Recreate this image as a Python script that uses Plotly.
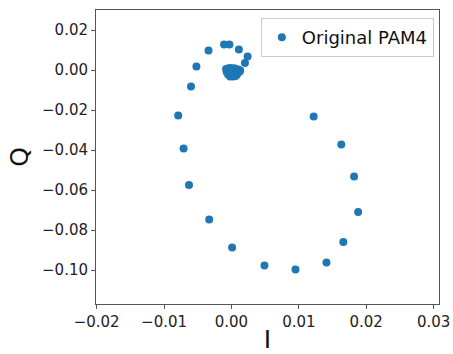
import plotly.graph_objects as go

# Ring points (I, Q)
ring_I = [-0.0071, -0.0063, -0.0033, 0.0001, 0.0049, 0.0095, 0.0141, 0.0166, 0.0188, 0.0182, 0.0163,
          -0.0079, 0.0122, -0.0060, -0.0052, -0.0034, -0.0011, -0.0003, 0.0011, 0.0024, 0.0020]
ring_Q = [-0.0393, -0.0575, -0.0747, -0.0887, -0.0977, -0.0998, -0.0962, -0.0860, -0.0710, -0.0533, -0.0373,
          -0.0227, -0.0233, -0.0083, 0.0018, 0.0098, 0.0127, 0.0127, 0.0103, 0.0067, 0.0035]
# Dense cluster near origin
clu_I = [-0.0008, -0.0005, -0.0002, 0.0001, 0.0004, 0.0007, 0.0010, 0.0013,
         -0.0007, -0.0003, 0.0000, 0.0003, 0.0006, 0.0009, 0.0012,
         -0.0005, -0.0001, 0.0002, 0.0005, 0.0008, -0.0002, 0.0003, 0.0006]
clu_Q = [0.0005, 0.0008, 0.0010, 0.0006, 0.0009, 0.0004, 0.0002, -0.0002,
         -0.0010, -0.0012, -0.0008, -0.0015, -0.0011, -0.0014, -0.0009,
         -0.0022, -0.0025, -0.0020, -0.0028, -0.0024, -0.0033, -0.0032, -0.0030]

I_vals = ring_I + clu_I
Q_vals = ring_Q + clu_Q

x_ticks = [-0.02, -0.01, 0.00, 0.01, 0.02, 0.03]
y_ticks = [0.02, 0.00, -0.02, -0.04, -0.06, -0.08, -0.10]

fig = go.Figure()
fig.add_trace(go.Scatter(
    x=I_vals, y=Q_vals, mode="markers", name="Original PAM4",
    marker=dict(color="#1f77b4", size=8, line=dict(width=0)),
))

axis_common = dict(
    showgrid=False, zeroline=False, showline=True, linecolor="#555555", linewidth=1,
    mirror=True, ticks="outside", ticklen=4, tickcolor="#555555", tickformat=".2f",
    tickfont=dict(family="DejaVu Sans", size=15, color="#222222"),
    automargin=False,
)

fig.update_layout(
    width=453, height=354,
    margin=dict(l=96, r=14, t=10, b=50),
    paper_bgcolor="white", plot_bgcolor="white",
    font=dict(family="DejaVu Sans"),
    xaxis=dict(range=[-0.0201, 0.0308], tickvals=x_ticks,
               title=dict(text="I", font=dict(size=25, color="#111111"), standoff=4),
               **axis_common),
    yaxis=dict(range=[-0.117, 0.030], tickvals=y_ticks,
               title=dict(text="Q", font=dict(size=25, color="#111111"), standoff=6),
               **axis_common),
    showlegend=True,
    legend=dict(x=0.985, y=0.973, xanchor="right", yanchor="top",
                bgcolor="white", bordercolor="#cccccc", borderwidth=1,
                font=dict(size=18, color="#111111"),
                itemwidth=30),
)

fig.write_html("out.html")
